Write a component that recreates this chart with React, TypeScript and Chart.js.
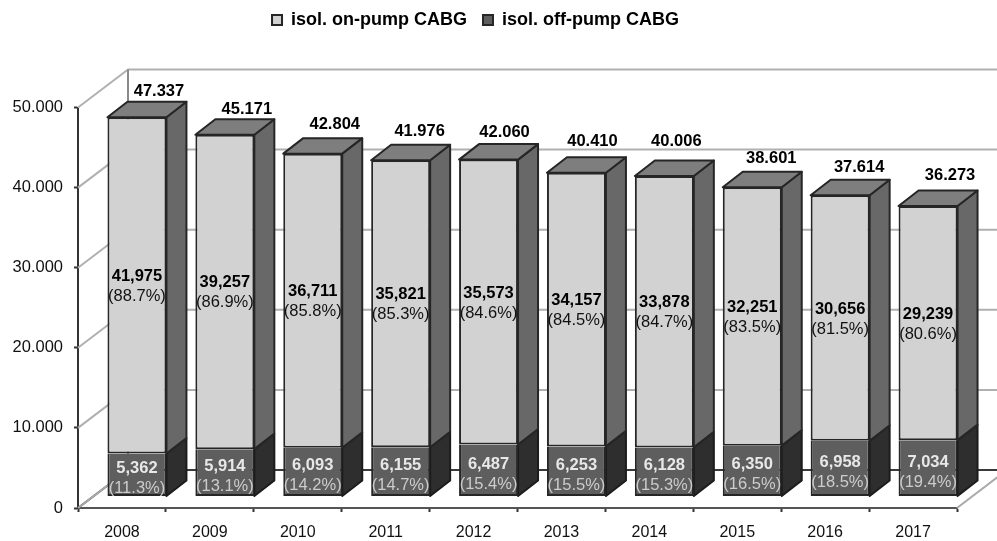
import React, { useEffect, useRef } from "react";
import { Chart, registerables } from "chart.js";

Chart.register(...registerables);

const categories = ["2008", "2009", "2010", "2011", "2012", "2013", "2014", "2015", "2016", "2017"];
const onPump = [41975, 39257, 36711, 35821, 35573, 34157, 33878, 32251, 30656, 29239];
const offPump = [5362, 5914, 6093, 6155, 6487, 6253, 6128, 6350, 6958, 7034];
const totalLabels = ["47.337", "45.171", "42.804", "41.976", "42.060", "40.410", "40.006", "38.601", "37.614", "36.273"];
const onPumpLabels = ["41,975", "39,257", "36,711", "35,821", "35,573", "34,157", "33,878", "32,251", "30,656", "29,239"];
const offPumpLabels = ["5,362", "5,914", "6,093", "6,155", "6,487", "6,253", "6,128", "6,350", "6,958", "7,034"];
const onPumpShare = ["(88.7%)", "(86.9%)", "(85.8%)", "(85.3%)", "(84.6%)", "(84.5%)", "(84.7%)", "(83.5%)", "(81.5%)", "(80.6%)"];
const offPumpShare = ["(11.3%)", "(13.1%)", "(14.2%)", "(14.7%)", "(15.4%)", "(15.5%)", "(15.3%)", "(16.5%)", "(18.5%)", "(19.4%)"];
const yTickLabels = ["0", "10.000", "20.000", "30.000", "40.000", "50.000"];

const FONT = '"Liberation Sans", Arial, sans-serif';
const WALL = { x: 50, y: -38 };
const BAR_SHIFT = { x: 15, y: -11.5 };
const BAR_DEPTH = { x: 20, y: -15.5 };
// hand placement of the total labels, relative to each bar's top
const TOTAL_NUDGE_X = [2, 2, 2, -1, -4, -4, -8, -1, -1, 2];
const TOTAL_NUDGE_Y = [1, 1, -3, -2, -1, -5, -8, -2, -1, -4];

const poly = (ctx: CanvasRenderingContext2D, pts: number[][], fill: string | null, stroke: string, lw: number) => {
  ctx.beginPath();
  pts.forEach((p, i) => (i ? ctx.lineTo(p[0], p[1]) : ctx.moveTo(p[0], p[1])));
  if (fill) {
    ctx.closePath();
    ctx.fillStyle = fill;
    ctx.fill();
  }
  ctx.strokeStyle = stroke;
  ctx.lineWidth = lw;
  ctx.lineJoin = "round";
  ctx.stroke();
};

const box3d = {
  id: "box3d",
  afterLayout(chart: any) {
    chart.legend.left -= 3;
    chart.legend.right -= 3;
    chart.legend.top -= 68.5;
    chart.legend.bottom -= 68.5;
  },
  beforeDatasetsDraw(chart: any) {
    const { ctx, scales } = chart;
    const x0 = scales.x.left;
    const x1 = scales.x.right;
    const y = scales.y;
    const zero = y.getPixelForValue(0);
    const top = y.getPixelForValue(50000);
    ctx.save();
    y.ticks.forEach((t: any) => {
      const py = y.getPixelForValue(t.value);
      const dark = t.value === 0;
      poly(
        ctx,
        [[x0, py], [x0 + WALL.x, py + WALL.y], [x1 + WALL.x, py + WALL.y]],
        null,
        dark ? "#3a3a3a" : "#b0b0b0",
        2
      );
    });
    poly(ctx, [[x0 + WALL.x, top + WALL.y], [x0 + WALL.x, zero + WALL.y]], null, "#8a8a8a", 2);
    poly(ctx, [[x0, zero], [x0 + WALL.x, zero + WALL.y]], null, "#a9a9a9", 2);
    poly(ctx, [[x1, zero], [x1 + WALL.x, zero + WALL.y]], null, "#a9a9a9", 2);
    const lower = chart.getDatasetMeta(0).data;
    const upper = chart.getDatasetMeta(1).data;
    lower.forEach((el: any, i: number) => {
      const u = upper[i];
      const l = el.x - el.width / 2 + BAR_SHIFT.x;
      const r = el.x + el.width / 2 + BAR_SHIFT.x;
      const b = el.base + BAR_SHIFT.y;
      const m = el.y + BAR_SHIFT.y;
      const t = u.y + BAR_SHIFT.y;
      const d = BAR_DEPTH;
      poly(ctx, [[r, b], [r + d.x, b + d.y], [r + d.x, m + d.y], [r, m]], "#2e2e2e", "#1c1c1c", 2);
      poly(ctx, [[r, m], [r + d.x, m + d.y], [r + d.x, t + d.y], [r, t]], "#686868", "#262626", 2);
      poly(ctx, [[l, t], [l + d.x, t + d.y], [r + d.x, t + d.y], [r, t]], "#7e7e7e", "#262626", 2);
    });
    ctx.restore();
    ctx.save();
    ctx.translate(BAR_SHIFT.x, BAR_SHIFT.y);
  },
  afterDatasetsDraw(chart: any) {
    const { ctx } = chart;
    ctx.restore();
    const lower = chart.getDatasetMeta(0).data;
    const upper = chart.getDatasetMeta(1).data;
    ctx.save();
    ctx.textAlign = "center";
    ctx.textBaseline = "middle";
    lower.forEach((el: any, i: number) => {
      const u = upper[i];
      const cx = el.x + BAR_SHIFT.x;
      const base = el.base + BAR_SHIFT.y;
      const mid = el.y + BAR_SHIFT.y;
      const top = u.y + BAR_SHIFT.y;
      const c1 = (top + mid) / 2;
      const c0 = (mid + base) / 2;
      ctx.font = `bold 16.5px ${FONT}`;
      ctx.fillStyle = "#000";
      ctx.fillText(onPumpLabels[i], cx, c1 - 9);
      ctx.font = `16.5px ${FONT}`;
      ctx.fillStyle = "#111";
      ctx.fillText(onPumpShare[i], cx, c1 + 11);
      ctx.font = `bold 16.5px ${FONT}`;
      ctx.fillStyle = "#e8e8e8";
      ctx.fillText(offPumpLabels[i], cx, c0 - 6);
      ctx.font = `16.5px ${FONT}`;
      ctx.fillStyle = "#cccccc";
      ctx.fillText(offPumpShare[i], cx, c0 + 14);
      ctx.font = `bold 16.5px ${FONT}`;
      ctx.fillStyle = "#000";
      ctx.fillText(
        totalLabels[i],
        cx + BAR_DEPTH.x + TOTAL_NUDGE_X[i],
        top + BAR_DEPTH.y - 11 + TOTAL_NUDGE_Y[i]
      );
    });
    ctx.restore();
  },
};

export default function App() {
  const ref = useRef<HTMLCanvasElement>(null);
  useEffect(() => {
    if (!ref.current) return;
    const chart = new Chart(ref.current, {
      type: "bar",
      data: {
        labels: categories,
        datasets: [
          {
            label: "isol. off-pump CABG",
            data: offPump,
            backgroundColor: "#5e5e5e",
            borderColor: "#262626",
            borderWidth: { left: 2, right: 2, bottom: 2, top: 0 },
            borderSkipped: false,
            inflateAmount: 0,
            barPercentage: 0.671,
            categoryPercentage: 1,
            clip: false,
          },
          {
            label: "isol. on-pump CABG",
            data: onPump,
            backgroundColor: "#d2d2d2",
            borderColor: "#262626",
            borderWidth: { left: 2, right: 2, bottom: 2, top: 2 },
            borderSkipped: false,
            inflateAmount: 0,
            barPercentage: 0.671,
            categoryPercentage: 1,
            clip: false,
          },
        ],
      },
      options: {
        responsive: false,
        animation: false,
        layout: { padding: { left: 0, right: 40, top: 63.5, bottom: 0 } },
        plugins: {
          tooltip: { enabled: false },
          legend: {
            position: "top",
            reverse: true,
            labels: {
              boxWidth: 10,
              boxHeight: 10,
              padding: 16,
              color: "#111",
              font: { family: FONT, size: 18, weight: "bold" },
              generateLabels: (c: any) =>
                c.data.datasets.map((d: any, i: number) => ({
                  text: d.label,
                  fillStyle: d.backgroundColor,
                  strokeStyle: d.borderColor,
                  lineWidth: 2,
                  datasetIndex: i,
                })),
            },
          },
        },
        scales: {
          x: {
            stacked: true,
            afterFit: (s: any) => {
              s.height = 33;
            },
            border: { color: "#555", width: 2 },
            grid: { drawOnChartArea: false, drawTicks: true, tickLength: 4, tickWidth: 2, color: "#333" },
            ticks: { color: "#111", padding: 11, maxRotation: 0, font: { family: FONT, size: 16 } },
          },
          y: {
            stacked: true,
            min: 0,
            max: 50000,
            afterFit: (s: any) => {
              s.width = 78;
            },
            border: { color: "#333", width: 2 },
            grid: { drawOnChartArea: false, drawTicks: true, tickLength: 4, tickWidth: 2, color: "#333" },
            ticks: {
              stepSize: 10000,
              color: "#111",
              padding: 11,
              font: { family: FONT, size: 16.5 },
              callback: (_v: any, i: number) => yTickLabels[i],
            },
          },
        },
      },
      plugins: [box3d],
    } as any);
    return () => chart.destroy();
  }, []);
  return (
    <div style={{ position: "absolute", left: 0, top: 0, width: 997, height: 541, overflow: "hidden", background: "#fff" }}>
      <canvas ref={ref} width={997} height={541} style={{ display: "block", filter: "blur(0.7px)" }} />
    </div>
  );
}
